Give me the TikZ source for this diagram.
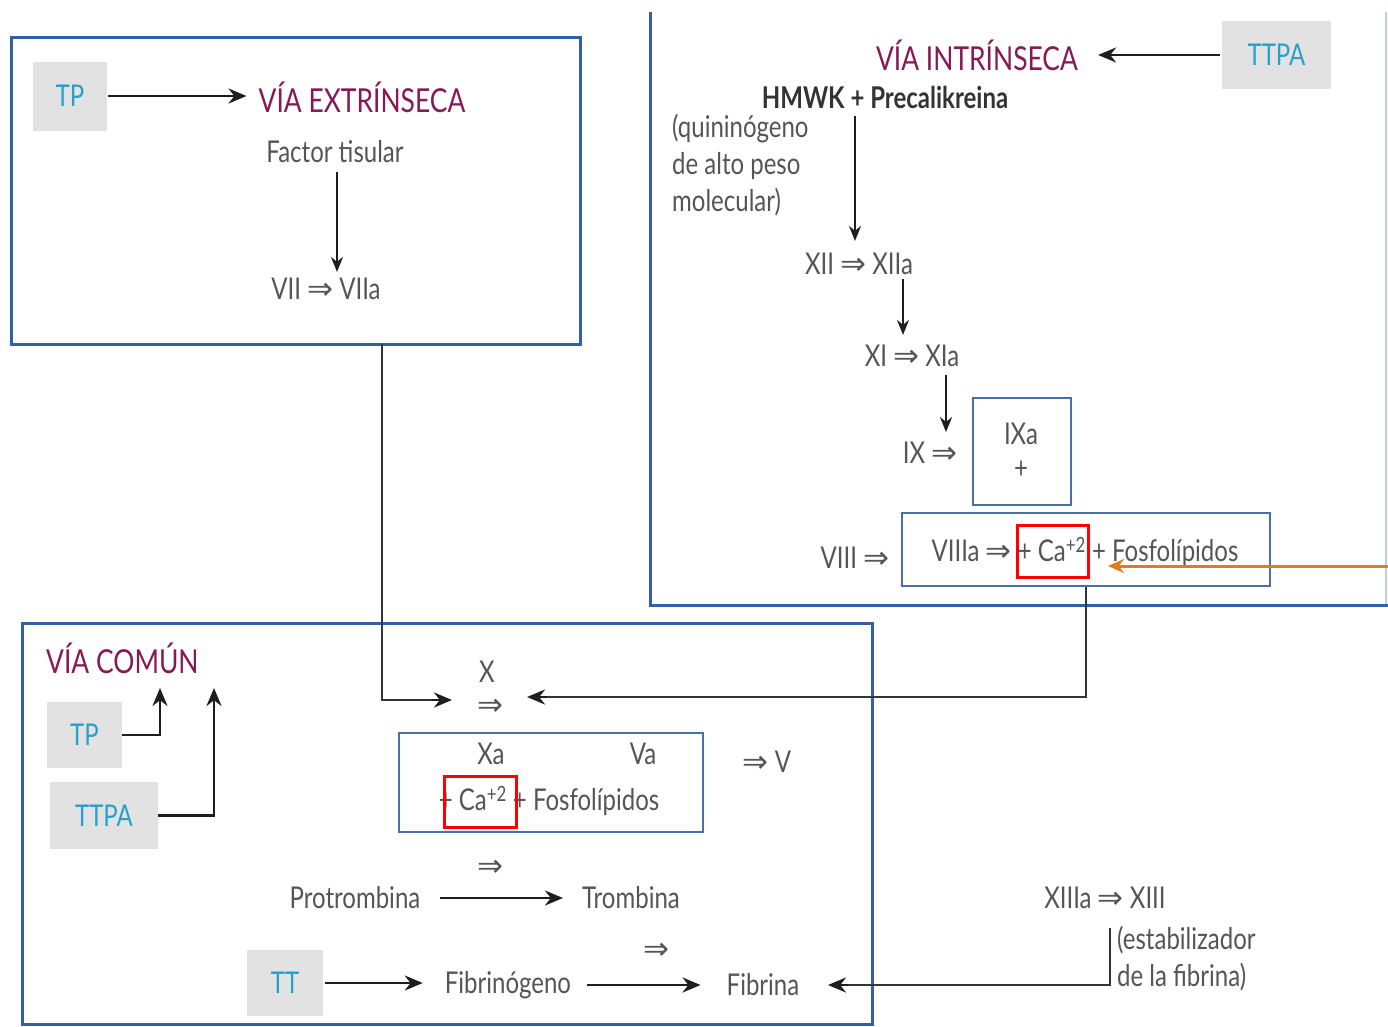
\documentclass[tikz,border=0pt]{standalone}
\usepackage{fontspec}
\setmainfont[FakeStretch=0.8]{Lato}
\newfontfamily\symfont{DejaVu Sans}
\usetikzlibrary{arrows.meta,calc}
\definecolor{boxblue}{RGB}{50,95,165}
\definecolor{inblue}{RGB}{75,110,165}
\definecolor{txtgray}{RGB}{85,85,85}
\definecolor{ttlmag}{RGB}{135,25,85}
\definecolor{labblue}{RGB}{40,160,205}
\definecolor{labgray}{RGB}{226,226,226}
\definecolor{arrblack}{RGB}{30,30,30}
\definecolor{orangearr}{RGB}{228,122,30}
\definecolor{edgeblue}{RGB}{190,205,225}
\newcommand{\imp}{{\symfont\fontsize{31}{34}\selectfont ⇒}}
\begin{document}
\begin{tikzpicture}[x=1pt,y=-1pt,
  txt/.style={font=\fontsize{30}{37}\selectfont, text=txtgray, inner sep=0pt},
  ttl/.style={font=\fontsize{33}{36}\selectfont, text=ttlmag, inner sep=0pt},
  lab/.style={fill=labgray, text=labblue, font=\fontsize{30}{34}\selectfont, inner sep=0pt},
  frame/.style={draw=boxblue, line width=3pt, inner sep=0pt},
  inbox/.style={draw=inblue, line width=2pt, inner sep=0pt},
  redbox/.style={draw=red, line width=3pt, inner sep=0pt},
  arr/.style={draw=arrblack, line width=2.7pt, -{Stealth[length=18pt,width=15pt]}},
  tarr/.style={draw=arrblack, line width=2.2pt, -{Stealth[length=15pt,width=12pt]}},
  conn/.style={draw=arrblack!90, line width=2pt}
]
\useasboundingbox (0,0) rectangle (1388,1026);
\fill[white] (0,0) rectangle (1388,1026);

% ---------- Vía extrínseca ----------
\node[frame, minimum width=569pt, minimum height=307pt] (extbox) at (295.5,190.5) {};
\node[lab, minimum width=74pt, minimum height=69pt] (tp1) at (70,96) {TP};
\node[ttl] (extr) at (362,97) {VÍA EXTRÍNSECA};
\node[txt] (factor) at (335,152) {Factor tisular};
\node[txt] (vii) at (326,289) {VII \imp{} VIIa};
\draw[arr, shorten <=1pt, shorten >=12pt] (tp1.east) -- (tp1.east -| extr.west);
\draw[tarr, shorten <=9pt, shorten >=6pt] (factor.south -| 337,0) -- (vii.north -| 337,0);

% ---------- Vía intrínseca ----------
\draw[draw=edgeblue, line width=1.5pt] (1386,12) -- (1386,605);
\draw[draw=boxblue, line width=3pt] (650,12) -- (650,605) -- (1388,605);
\node[lab, minimum width=109pt, minimum height=68pt] (ttpa1) at (1276.5,55) {TTPA};
\node[ttl] (intr) at (977,55) {VÍA INTRÍNSECA};
\node[txt, font=\fontsize{30}{37}\selectfont\bfseries, text=black!80] (hmwk) at (885,97) {HMWK + Precalikreina};
\node[txt, align=left, anchor=north west] (quin) at (672,114) {(quininógeno\\de alto peso\\molecular)};
\node[txt] (xii) at (859,264) {XII \imp{} XIIa};
\node[txt] (xi) at (912,356) {XI \imp{} XIa};
\node[txt] (ix) at (930,453) {IX \imp};
\node[inbox, minimum width=98pt, minimum height=107pt] (ixbox) at (1022,451.5) {};
\node[txt] (ixa) at (1021,434) {IXa};
\node[txt] (ixplus) at (1021,470) {+};
\node[txt] (viii) at (855,558) {VIII \imp};
\node[inbox, minimum width=368pt, minimum height=73pt] (viiibox) at (1086,549.5) {};
\node[txt] (viiia) at (1085,552) {VIIIa \imp{} + Ca\textsuperscript{+2} + Fosfolípidos};
\node[redbox, minimum width=71pt, minimum height=52pt] (red1) at (1052.5,551) {};
\draw[arr, shorten <=2pt, shorten >=20pt] (ttpa1.west) -- (ttpa1.west -| intr.east);
\draw[tarr, shorten <=8pt, shorten >=12pt] (hmwk.south -| 855,0) -- (xii.north -| 855,0);
\draw[tarr, shorten <=4pt, shorten >=10pt] (xii.south -| 903,0) -- (xi.north -| 903,0);
\draw[tarr, shorten <=8pt, shorten >=10pt] (xi.south -| 946,0) -- (ix.north -| 946,0);
\coordinate (orstart) at (1388,566);
\coordinate (orend) at (1108,566);
\draw[draw=orangearr, line width=3pt, -{Stealth[length=16pt,width=14pt]}] (orstart) -- (orend);

% ---------- Vía común ----------
\node[frame, minimum width=850pt, minimum height=401pt] (combox) at (447,823.5) {};
\node[ttl, anchor=west] (comun) at (46,658) {VÍA COMÚN};
\node[lab, minimum width=75pt, minimum height=66pt] (tp2) at (84.5,735) {TP};
\node[lab, minimum width=108pt, minimum height=67pt] (ttpa2) at (104,815.5) {TTPA};
\coordinate (tpup) at (160,688);
\coordinate (ttpaup) at (214,688);
\draw[arr] (tp2.east) -| (tpup);
\draw[arr] (ttpa2.east) -| (ttpaup);

\node[txt] (xx) at (487,672) {X};
\node[txt] (imp1) at (490,707) {\imp};
\node[inbox, minimum width=304pt, minimum height=99pt] (xabox) at (551,782.5) {};
\node[txt] (xa) at (491,754) {Xa};
\node[txt] (va) at (643,754) {Va};
\node[txt] (cafos) at (549,801) {+ Ca\textsuperscript{+2} + Fosfolípidos};
\node[redbox, minimum width=72pt, minimum height=51pt] (red2) at (480,801.5) {};
\node[txt] (v) at (767,762) {\imp{} V};
\node[txt] (imp2) at (490,868) {\imp};
\node[txt] (protr) at (355,898) {Protrombina};
\node[txt] (tromb) at (631,898) {Trombina};
\node[lab, minimum width=76pt, minimum height=66pt] (tt) at (285,983) {TT};
\node[txt] (fibrin) at (508,985) {Fibrinógeno};
\node[txt] (imp3) at (656,951) {\imp};
\node[txt] (fibrina) at (763,985) {Fibrina};
\node[txt] (xiii) at (1105,898) {XIIIa \imp{} XIII};
\node[txt, align=left, anchor=north west] (estab) at (1117,926) {(estabilizador\\de la fibrina)};

\draw[arr, shorten <=20pt, shorten >=19pt] (protr.east) -- (protr.east -| tromb.west);
\draw[arr, shorten <=2pt, shorten >=22pt] (tt.east) -- (tt.east -| fibrin.west);
\draw[arr, shorten <=16pt, shorten >=26pt] (fibrin.east) -- (fibrin.east -| fibrina.west);

% ---------- connectors between pathways ----------
\coordinate (extdown) at (382,344);
\coordinate (xin) at (452,700);
\draw[conn] (extdown) |- ($(xin)+(-16,0)$);
\draw[arr] ($(xin)+(-20,0)$) -- (xin);
\coordinate (xinr) at (527,697);
\draw[conn] (viiibox.south) |- ($(xinr)+(16,0)$);
\draw[arr] ($(xinr)+(20,0)$) -- (xinr);
\coordinate (xiiidown) at (1110,928);
\coordinate (fibin) at (828,985);
\draw[conn] (xiiidown) |- ($(fibin)+(16,0)$);
\draw[arr] ($(fibin)+(20,0)$) -- (fibin);
\end{tikzpicture}
\end{document}
